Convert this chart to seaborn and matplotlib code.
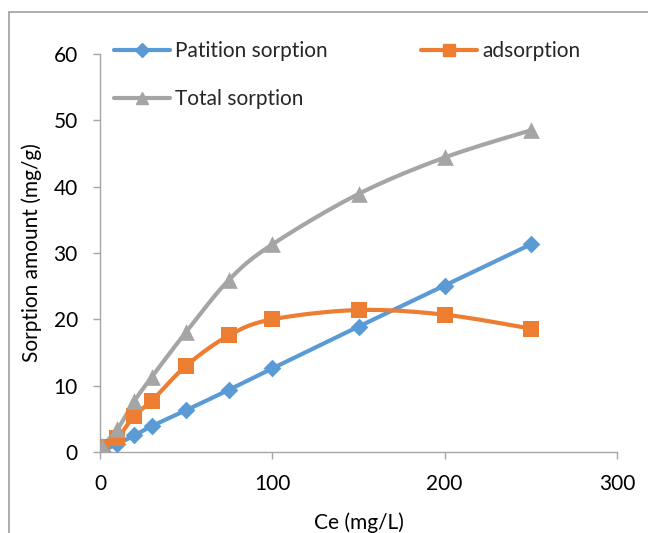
import numpy as np
import matplotlib
matplotlib.use("Agg")
import matplotlib.pyplot as plt
import seaborn as sns
from matplotlib.lines import Line2D

ce = [1, 10, 20, 30, 50, 75, 100, 150, 200, 250]
partition = [0.1, 1.2, 2.5, 3.9, 6.3, 9.4, 12.6, 18.9, 25.1, 31.3]
adsorption = [0.8, 2.1, 5.5, 7.7, 13.0, 17.6, 20.0, 21.4, 20.7, 18.6]
total = [0.9, 3.4, 7.7, 11.3, 18.1, 26.0, 31.3, 38.9, 44.4, 48.5]

labels = ["Patition sorption", "adsorption", "Total sorption"]
colors = ["#5B9BD5", "#ED7D31", "#A5A5A5"]
markers = ["D", "s", "^"]
msizes = [9, 12, 12]
xticks = [0, 100, 200, 300]
yticks = [0, 10, 20, 30, 40, 50, 60]

sns.set_theme(style="white")
plt.rcParams["font.family"] = ["Lato", "DejaVu Sans"]

fig = plt.figure(figsize=(6.48, 5.33), dpi=100)
ax = fig.add_axes([100 / 648, 1 - 452 / 533, 517 / 648, 398 / 533])


def smooth(x, y, n=20):
    x = np.asarray(x, float)
    y = np.asarray(y, float)
    pts = np.column_stack([x, y])
    out = []
    for i in range(len(pts) - 1):
        p0 = pts[max(i - 1, 0)]
        p1 = pts[i]
        p2 = pts[i + 1]
        p3 = pts[min(i + 2, len(pts) - 1)]
        c1 = p1 + (p2 - p0) / 6.0
        c2 = p2 - (p3 - p1) / 6.0
        t = np.linspace(0, 1, n)[:, None]
        seg = ((1 - t) ** 3) * p1 + 3 * ((1 - t) ** 2) * t * c1 + 3 * (1 - t) * t ** 2 * c2 + t ** 3 * p2
        out.append(seg if i == 0 else seg[1:])
    s = np.vstack(out)
    return s[:, 0], s[:, 1]


series = [partition, adsorption, total]
handles = []
for ys, lab, c, m, ms in zip(series, labels, colors, markers, msizes):
    sx, sy = smooth(ce, ys)
    ax.plot(sx, sy, color=c, lw=3, solid_capstyle="round", zorder=2)
    sns.scatterplot(x=ce, y=ys, marker=m, color=c, s=ms ** 2, edgecolor=c,
                    linewidth=0, ax=ax, zorder=3, legend=False)
    handles.append(Line2D([0], [0], color=c, lw=3, marker=m, markersize=ms * 0.75,
                          markeredgecolor=c, label=lab))

ax.set_xlim(0, 300)
ax.set_ylim(0, 60)
ax.set_xticks(xticks)
ax.set_yticks(yticks)
ax.tick_params(axis="both", labelsize=15, colors="#A6A6A6", labelcolor="black",
               direction="out", length=5, width=1, bottom=True, left=True)
ax.tick_params(axis="y", pad=11)
ax.tick_params(axis="x", pad=11)
for side in ["top", "right"]:
    ax.spines[side].set_visible(False)
for side in ["left", "bottom"]:
    ax.spines[side].set_color("#A6A6A6")
    ax.spines[side].set_linewidth(1)

ax.set_xlabel("Ce (mg/L)", fontsize=15, color="black", labelpad=13)
ax.set_ylabel("Sorption amount (mg/g)", fontsize=15, color="black", labelpad=8)

order = [handles[0], handles[2], handles[1]]
fig.legend(handles=order, labels=[h.get_label() for h in order], ncol=2,
           loc="upper left", bbox_to_anchor=(114 / 648, 1 - 41 / 533),
           frameon=False, fontsize=15, handlelength=2.7, handletextpad=0.25,
           columnspacing=4.45, labelspacing=1.35, borderaxespad=0, borderpad=0)

# chart area border (partially visible)
fig.add_artist(Line2D([8.5 / 648, 8.5 / 648], [0, 1 - 12 / 533], transform=fig.transFigure,
                      color="#A0A0A0", lw=1.2))
fig.add_artist(Line2D([8.5 / 648, 1], [1 - 12 / 533, 1 - 12 / 533], transform=fig.transFigure,
                      color="#A0A0A0", lw=1.2))

fig.savefig("out.png", dpi=100)
